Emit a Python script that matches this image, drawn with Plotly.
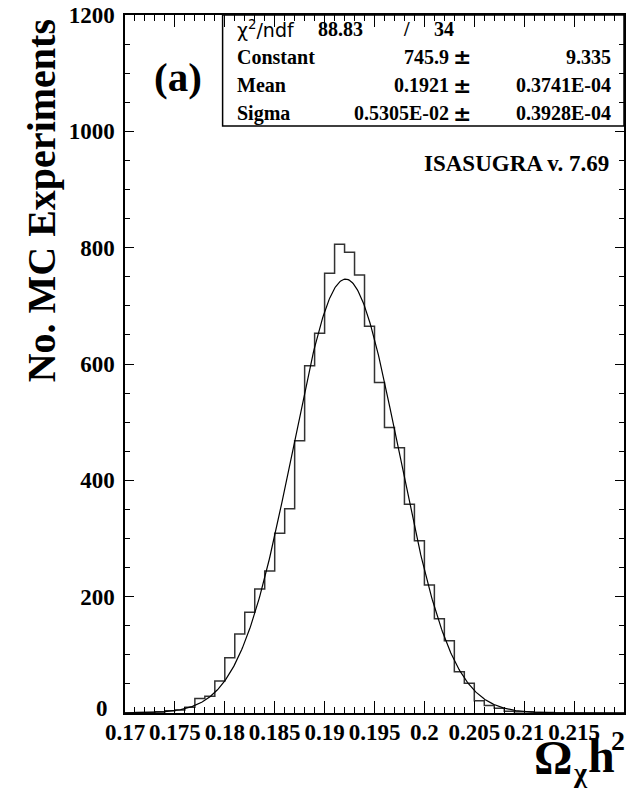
import numpy as np
import plotly.graph_objects as go

# ---------------- data ----------------
bin_low = 0.17
bin_width = 0.001
counts = [0, 1, 1, 2, 4, 5, 10, 25, 29, 55,
          95, 136, 173, 213, 244, 309, 351, 468, 597, 653,
          756, 806, 792, 753, 665, 568, 491, 456, 359, 296,
          220, 162, 124, 71, 51, 21, 13, 8, 3, 2,
          2, 1, 1, 0, 0, 0, 0, 0, 0, 0]

fit_constant = 745.9
fit_mean = 0.1921
fit_sigma = 0.5305e-2

chi2_text = "88.83"
ndf_text = "34"
stat_names = ["Constant", "Mean", "Sigma"]
stat_values = ["745.9", "0.1921", "0.5305E-02"]
stat_errors = ["9.335", "0.3741E-04", "0.3928E-04"]

x_tick_vals = [0.17, 0.175, 0.18, 0.185, 0.19, 0.195, 0.2, 0.205, 0.21, 0.215]
x_tick_text = ["0.17", "0.175", "0.18", "0.185", "0.19", "0.195", "0.2", "0.205", "0.21", "0.215"]
y_tick_vals = [0, 200, 400, 600, 800, 1000, 1200]
y_tick_text = ["0", "200", "400", "600", "800", "1000", "1200"]

# ---------------- layout geometry ----------------
W, H = 627, 789
L, R, T, B = 125, 1, 15, 76
PW, PH = W - L - R, H - T - B


def px_x(p):
    return (p - L) / PW


def px_y(p):
    return (H - B - p) / PH


n_bins = len(counts)
edges = bin_low + bin_width * np.arange(n_bins + 1)
step_y = counts + [counts[-1]]

xf = np.linspace(bin_low, bin_low + bin_width * n_bins, 600)
yf = fit_constant * np.exp(-0.5 * ((xf - fit_mean) / fit_sigma) ** 2)

fig = go.Figure()
fig.add_trace(go.Scatter(x=edges, y=step_y, mode="lines", line_shape="hv",
                         line=dict(color="#333333", width=1.5), hoverinfo="skip"))
fig.add_trace(go.Scatter(x=xf, y=yf, mode="lines",
                         line=dict(color="black", width=1.2), hoverinfo="skip"))

serif = "Liberation Serif"
tickfont = dict(family=serif, size=23, color="black", weight="bold")

# the "0" label of the y axis sits a little lower-left in the original; drawn separately
y_axis_text = [t if v != 0 else "" for v, t in zip(y_tick_vals, y_tick_text)]

fig.update_layout(
    width=W, height=H,
    margin=dict(l=L, r=R, t=T, b=B),
    paper_bgcolor="white", plot_bgcolor="white",
    showlegend=False,
    xaxis=dict(range=[bin_low, bin_low + bin_width * n_bins],
               tickmode="array", tickvals=x_tick_vals, ticktext=x_tick_text,
               ticks="inside", ticklen=12, tickwidth=1.2, tickcolor="black",
               minor=dict(tickmode="linear", tick0=bin_low, dtick=bin_width,
                          ticks="inside", ticklen=6, tickwidth=1, tickcolor="black"),
               showline=True, linecolor="black", linewidth=1.5, mirror="ticks",
               showgrid=False, zeroline=False, tickfont=tickfont,
               ticklabelstandoff=-2),
    yaxis=dict(range=[0, 1200],
               tickmode="array", tickvals=y_tick_vals, ticktext=y_axis_text,
               ticks="inside", ticklen=9, tickwidth=1.2, tickcolor="black",
               minor=dict(tickmode="linear", tick0=0, dtick=50,
                          ticks="inside", ticklen=5, tickwidth=1, tickcolor="black"),
               showline=True, linecolor="black", linewidth=1.5, mirror="ticks",
               showgrid=False, zeroline=False, tickfont=tickfont,
               ticklabelstandoff=4),
)

# stats box
fig.add_shape(type="rect", xref="paper", yref="paper",
              x0=px_x(223), x1=px_x(626), y0=px_y(126), y1=px_y(15),
              line=dict(color="black", width=1.5), fillcolor="rgba(0,0,0,0)")

annos = []
box_font = dict(family=serif, size=20, color="black", weight="bold")
pm_font = dict(family="DejaVu Sans", size=22, color="black", weight="bold")
row_y = [57, 85, 113]
annos.append(dict(x=px_x(235), y=px_y(29), text="χ<sup>2</sup>/ndf", xanchor="left",
                  yanchor="middle", font=dict(family="DejaVu Sans", size=19, color="black")))
annos.append(dict(x=px_x(317), y=px_y(29), text=chi2_text, xanchor="left", yanchor="middle", font=box_font))
annos.append(dict(x=px_x(408), y=px_y(29), text="/", xanchor="center", yanchor="middle", font=box_font))
annos.append(dict(x=px_x(433), y=px_y(29), text=ndf_text, xanchor="left", yanchor="middle", font=box_font))
for name, val, err, yy in zip(stat_names, stat_values, stat_errors, row_y):
    annos.append(dict(x=px_x(235), y=px_y(yy), text=name, xanchor="left", yanchor="middle", font=box_font))
    annos.append(dict(x=px_x(452), y=px_y(yy), text=val, xanchor="right", yanchor="middle", font=box_font))
    annos.append(dict(x=px_x(463), y=px_y(yy), text="±", xanchor="center", yanchor="middle", font=pm_font))
    annos.append(dict(x=px_x(615), y=px_y(yy), text=err, xanchor="right", yanchor="middle", font=box_font))

annos.append(dict(x=px_x(110), y=px_y(708), text=y_tick_text[0], xanchor="right", yanchor="middle",
                  font=tickfont))
annos.append(dict(x=px_x(178), y=px_y(77), text="(a)", xanchor="center", yanchor="middle",
                  font=dict(family=serif, size=41, color="black", weight="bold")))
annos.append(dict(x=px_x(613), y=px_y(163), text="ISASUGRA v. 7.69", xanchor="right", yanchor="middle",
                  font=dict(family=serif, size=23, color="black", weight="bold")))
annos.append(dict(x=px_x(41), y=px_y(201), text="No. MC Experiments", textangle=-90,
                  xanchor="center", yanchor="middle",
                  font=dict(family=serif, size=40, color="black", weight="bold")))

# x-axis title  Omega_chi h^2, pieces placed like the original
big = dict(family=serif, size=48, color="black", weight="bold")
small = dict(family=serif, size=28, color="black", weight="bold")
annos.append(dict(x=px_x(555), y=px_y(757), text="Ω", xanchor="center", yanchor="middle", font=big))
annos.append(dict(x=px_x(582), y=px_y(772), text="χ", xanchor="center", yanchor="middle", font=small))
annos.append(dict(x=px_x(603), y=px_y(755), text="h", xanchor="center", yanchor="middle", font=big))
annos.append(dict(x=px_x(620), y=px_y(740), text="2", xanchor="center", yanchor="middle", font=small))

for a in annos:
    a.update(xref="paper", yref="paper", showarrow=False)
fig.update_layout(annotations=annos)

fig.write_html("out.html")
